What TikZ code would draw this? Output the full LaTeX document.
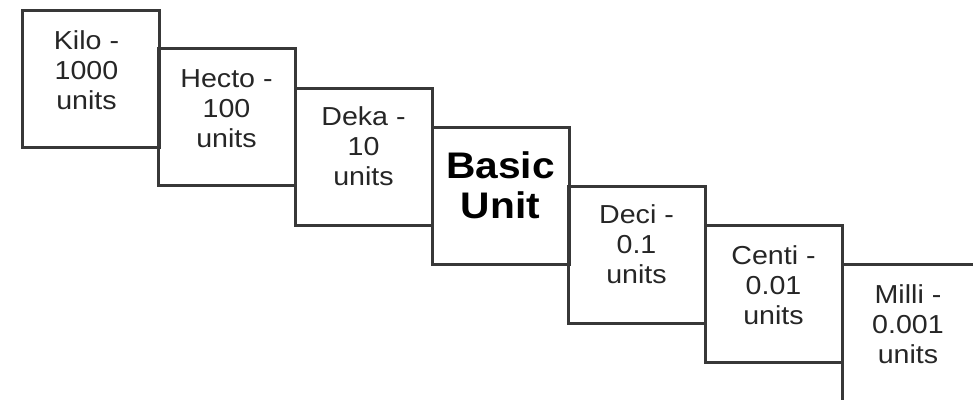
\documentclass[tikz,border=0pt]{standalone}
\usepackage{fontspec}
\setmainfont[FakeStretch=1.1]{Liberation Sans}
\tikzset{
  unitbox/.style={draw=black!78, line width=3pt, rectangle, minimum width=137pt, minimum height=137pt, inner sep=0pt, outer sep=0pt, anchor=north west},
  unittxt/.style={text=black!85, align=center, inner sep=0pt, font=\fontsize{26}{30}\selectfont},
  basictxt/.style={text=black, align=center, inner sep=0pt, font=\fontsize{37}{40}\selectfont\bfseries}
}
\begin{document}
\begin{tikzpicture}[x=1pt,y=-1pt]
\useasboundingbox (0,0) rectangle (973,399);
\clip (0,0) rectangle (973,399);
\fill[white] (0,0) rectangle (973,399);
\node[unitbox] (kilo)  at (22,10)   {};
\node[unitbox] (hecto) at (158,48)  {};
\node[unitbox] (deka)  at (295,88)  {};
\node[unitbox] (basic) at (432,127) {};
\node[unitbox] (deci)  at (568,186) {};
\node[unitbox] (centi) at (705,225) {};
\node[unitbox, minimum height=160pt] (milli) at (842,264) {};
\node[unittxt] (kilot)  at ([shift={(-4,-8)}]kilo.center)  {Kilo -\\1000\\units};
\node[unittxt] (hectot) at ([shift={(0,-8)}]hecto.center) {Hecto -\\100\\units};
\node[unittxt] (dekat)  at ([shift={(0,-10)}]deka.center) {Deka -\\10\\units};
\node[basictxt] (basict) at ([shift={(0,-10)}]basic.center) {Basic\\Unit};
\node[unittxt] (decit)  at ([shift={(0,-10)}]deci.center)  {Deci -\\0.1\\units};
\node[unittxt] (centit) at ([shift={(0,-8)}]centi.center) {Centi -\\0.01\\units};
\node[unittxt] (millit) at (908,324) {Milli -\\0.001\\units};
\end{tikzpicture}
\end{document}
